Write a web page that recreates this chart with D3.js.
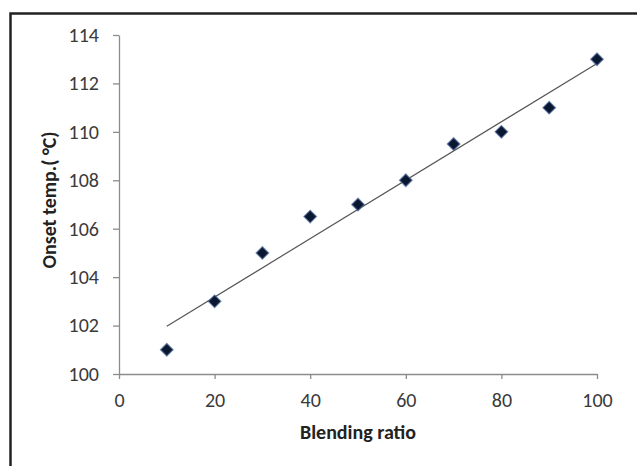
<!DOCTYPE html>
<html><head><meta charset="utf-8">
<script src="https://cdn.jsdelivr.net/npm/d3@7"></script>
<style>body{margin:0;background:#fff}svg{display:block}</style>
</head><body>
<script>
const blendingRatio = [10, 20, 30, 40, 50, 60, 70, 80, 90, 100];
const onsetTemp = [101, 103, 105, 106.5, 107, 108, 109.5, 110, 111, 113];
const xTicks = [0, 20, 40, 60, 80, 100];
const yTicks = [100, 102, 104, 106, 108, 110, 112, 114];

const W = 637, H = 466;
const svg = d3.select("body").append("svg").attr("width", W).attr("height", H);
svg.append("rect").attr("width", W).attr("height", H).attr("fill", "#fff");
// outer frame (left and top edges visible, cropped right/bottom)
svg.append("path").attr("d", `M10.5,${H} V13.5 H${W}`).attr("fill", "none")
  .attr("stroke", "#222").attr("stroke-width", 2.5);

const x = d3.scaleLinear().domain([0, 100]).range([119, 597]);
const y = d3.scaleLinear().domain([100, 114]).range([374, 35]);
const font = "Carlito, Calibri, Lato, sans-serif";

const gx = svg.append("g").attr("transform", `translate(0,${y(100)})`)
  .call(d3.axisBottom(x).tickValues(xTicks).tickSize(5).tickPadding(14).tickSizeOuter(0));
const gy = svg.append("g").attr("transform", `translate(${x(0)},0)`)
  .call(d3.axisLeft(y).tickValues(yTicks).tickSize(6).tickPadding(14).tickSizeOuter(0));
[gx, gy].forEach(g => {
  g.attr("font-family", font).attr("font-size", 20);
  g.select(".domain").attr("stroke", "#8c8c8c").attr("stroke-width", 1.3);
  g.selectAll(".tick line").attr("stroke", "#8c8c8c").attr("stroke-width", 1.3);
  g.selectAll("text").style("font-family", font).style("font-size", "20px").attr("fill", "#3a3a3a");
});

// linear trendline (least squares)
const n = blendingRatio.length;
const mx = d3.mean(blendingRatio), my = d3.mean(onsetTemp);
let sxy = 0, sxx = 0;
for (let i = 0; i < n; i++) { sxy += (blendingRatio[i]-mx)*(onsetTemp[i]-my); sxx += (blendingRatio[i]-mx)**2; }
const slope = sxy / sxx, icpt = my - slope * mx;
const x0 = d3.min(blendingRatio), x1 = d3.max(blendingRatio);
svg.append("line")
  .attr("x1", x(x0)).attr("y1", y(icpt + slope * x0))
  .attr("x2", x(x1)).attr("y2", y(icpt + slope * x1))
  .attr("stroke", "#555").attr("stroke-width", 1.2);

// markers
const diamond = d3.symbol().type(d3.symbolDiamond2).size(100);
svg.append("g").selectAll("path").data(blendingRatio).join("path")
  .attr("transform", (d, i) => `translate(${x(d)},${y(onsetTemp[i])})`)
  .attr("d", diamond)
  .attr("fill", "#0b1730").attr("stroke", "#4a6a99").attr("stroke-width", 1.3).attr("stroke-opacity", 0.7);

svg.append("text").attr("x", 358).attr("y", 439).attr("text-anchor", "middle")
  .style("font-family", font).style("font-size", "20px").attr("font-weight", "bold").attr("fill", "#222")
  .text("Blending ratio");
svg.append("text").attr("transform", "translate(56,200) rotate(-90)").attr("text-anchor", "middle")
  .style("font-family", font).style("font-size", "20px").attr("font-weight", "bold").attr("fill", "#222")
  .text("Onset temp.( °C)");
</script>
</body></html>
